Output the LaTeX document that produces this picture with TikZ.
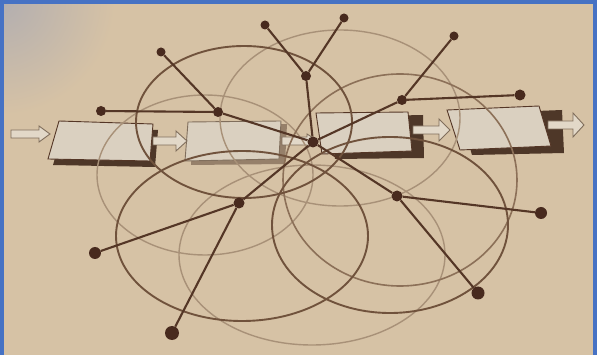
\documentclass[tikz,border=0pt]{standalone}
\definecolor{paper}{RGB}{214,194,165}
\definecolor{cornergray}{RGB}{178,174,176}
\definecolor{frameblue}{RGB}{70,114,196}
\definecolor{inkline}{RGB}{84,54,38}
\definecolor{inkdot}{RGB}{72,42,30}
\definecolor{ellDark}{RGB}{112,82,60}
\definecolor{ellMid}{RGB}{140,112,88}
\definecolor{ellLight}{RGB}{168,145,120}
\definecolor{boxface}{RGB}{218,208,192}
\definecolor{boxshadow}{RGB}{78,55,40}
\definecolor{boxshadowlt}{RGB}{150,128,106}
\definecolor{arrowfill}{RGB}{226,216,200}
\definecolor{arrowedge}{RGB}{128,110,92}
\tikzset{
  darkell/.style={draw=ellDark, line width=1.9pt},
  midell/.style={draw=ellMid, line width=1.6pt},
  lightell/.style={draw=ellLight, line width=1.4pt},
  link/.style={draw=inkline, line width=2.1pt},
  dot/.style={circle, fill=inkdot, inner sep=0pt, minimum size=#1},
  dot/.default=10pt,
  face/.style={fill=boxface, draw=inkline, line width=0.9pt},
  blockarr/.style={fill=arrowfill, draw=arrowedge, line width=0.9pt},
}
\newcommand\harr[4]{% x start, x end, y centre, head half height
  \draw[blockarr] (#1,#3-4) -- (#2-11,#3-4) -- (#2-11,#3-#4) -- (#2,#3)
    -- (#2-11,#3+#4) -- (#2-11,#3+4) -- (#1,#3+4) -- cycle;}
\begin{document}
\begin{tikzpicture}[x=1pt,y=-1pt]
\useasboundingbox (0,0) rectangle (597,355);
% paper
\fill[paper] (0,0) rectangle (597,355);
\begin{scope}
  \clip (0,0) rectangle (597,355);
  \shade[inner color=cornergray, outer color=paper] (0,0) circle (115pt);
\end{scope}
% boxes: shadows
\fill[boxshadow] (64,127) -- (158,130) -- (155,167) -- (53,165) -- cycle;
\fill[boxshadowlt] (194,125) -- (287,124) -- (285,164) -- (191,165) -- cycle;
\fill[boxshadow] (330,117) -- (423,115) -- (424,158) -- (335,159) -- cycle;
\fill[boxshadow] (460,114) -- (562,110) -- (564,153) -- (472,155) -- cycle;
% boxes: faces
\filldraw[face] (59,121) -- (153,124) -- (150,161) -- (48,159) -- cycle;
\filldraw[face, draw=arrowedge] (188,122) -- (281,121) -- (279,159) -- (185,161) -- cycle;
\filldraw[face] (316,113) -- (408,112) -- (412,151) -- (322,154) -- cycle;
\filldraw[face] (447,110) -- (539,106) -- (551,146) -- (460,150) -- cycle;
% block arrows
\harr{11}{50}{134}{8}
\harr{153}{187}{141}{10}
\harr{282}{318}{141}{7}
\harr{413}{450}{130}{11}
\harr{548}{584}{125}{12}
% ellipses
\draw[lightell] (205,175) ellipse [x radius=108pt, y radius=80pt];
\draw[lightell] (340,118) ellipse [x radius=120pt, y radius=88pt];
\draw[lightell] (312,255) ellipse [x radius=133pt, y radius=90pt];
\draw[midell] (400,180) ellipse [x radius=117pt, y radius=106pt];
\draw[darkell] (244,122) ellipse [x radius=108pt, y radius=76pt];
\draw[darkell] (242,236) ellipse [x radius=126pt, y radius=85pt];
\draw[darkell] (390,225) ellipse [x radius=118pt, y radius=88pt];
% nodes
\node[dot=11pt] (hub) at (313,142) {};
\node[dot=10pt] (jT) at (306,76) {};
\node[dot=9pt] (tA) at (265,25) {};
\node[dot=9pt] (tB) at (344,18) {};
\node[dot=10pt] (jL) at (218,112) {};
\node[dot=9pt] (tL) at (161,52) {};
\node[dot=10pt] (dL) at (101,111) {};
\node[dot=10pt] (jR) at (402,100) {};
\node[dot=9pt] (tR) at (454,36) {};
\node[dot=11pt] (dR) at (520,95) {};
\node[dot=11pt] (jLL) at (239,203) {};
\node[dot=12pt] (dLL) at (95,253) {};
\node[dot=14pt] (dB) at (172,333) {};
\node[dot=11pt] (jLR) at (397,196) {};
\node[dot=12pt] (dRR) at (541,213) {};
\node[dot=13pt] (dBR) at (478,293) {};
% connectors
\draw[link] (hub) -- (jT);
\draw[link] (jT) -- (tA);
\draw[link] (jT) -- (tB);
\draw[link] (hub) -- (jL);
\draw[link] (jL) -- (tL);
\draw[link] (jL) -- (dL);
\draw[link] (hub) -- (jR);
\draw[link] (jR) -- (tR);
\draw[link] (jR) -- (dR);
\draw[link] (hub) -- (jLL);
\draw[link] (jLL) -- (dLL);
\draw[link] (jLL) -- (dB);
\draw[link] (hub) -- (jLR);
\draw[link] (jLR) -- (dRR);
\draw[link] (jLR) -- (dBR);
% frame
\fill[frameblue] (0,0) rectangle (4,355);
\fill[frameblue] (0,0) rectangle (597,4);
\fill[frameblue] (593,0) rectangle (597,355);
\end{tikzpicture}
\end{document}
